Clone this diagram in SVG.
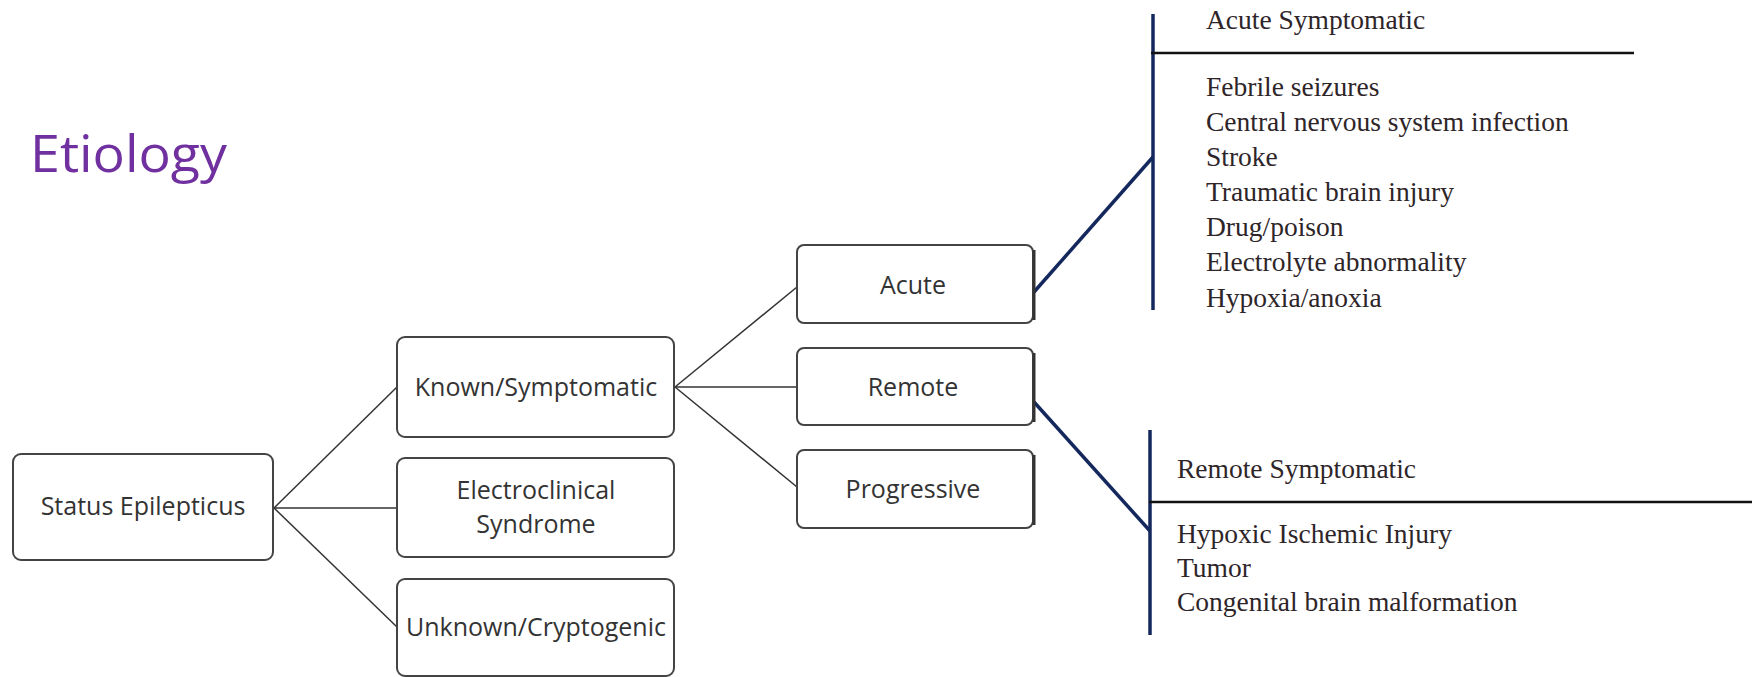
<svg xmlns="http://www.w3.org/2000/svg" width="1752" height="677" viewBox="0 0 1752 677">
<style>
.box{fill:#fff;stroke:#444;stroke-width:2}
.bt{font-family:"Open Sans","Noto Sans",sans-serif;font-size:25px;fill:#333;text-anchor:middle}
.conn{stroke:#333;stroke-width:1.5;fill:none}
.navy{stroke:#14285e;stroke-width:3.5;fill:none}
.rule{stroke:#111;stroke-width:2.5}
.st{font-family:"Liberation Serif",serif;font-size:27.5px;fill:#2e2529}
</style>
<rect width="1752" height="677" fill="#fff"/>
<text x="30" y="172" font-family="'Open Sans','Noto Sans',sans-serif" font-size="52" fill="#7030a0" textLength="197" lengthAdjust="spacingAndGlyphs">Etiology</text>
<g id="connectors">
<line class="conn" x1="274" y1="508" x2="397" y2="387"/>
<line class="conn" x1="274" y1="508" x2="397" y2="508"/>
<line class="conn" x1="274" y1="508" x2="397" y2="627"/>
<line class="conn" x1="675" y1="387" x2="797" y2="287"/>
<line class="conn" x1="675" y1="387" x2="797" y2="387"/>
<line class="conn" x1="675" y1="387" x2="797" y2="487"/>
<line class="navy" x1="1034" y1="292" x2="1153" y2="157"/>
<line class="navy" x1="1034" y1="402" x2="1150" y2="531"/>
</g>
<g id="status"><rect class="box" x="13" y="454" width="260" height="106" rx="8"/><text class="bt" x="143" y="515">Status Epilepticus</text></g>
<g id="known"><rect class="box" x="397" y="337" width="277" height="100" rx="8"/><text class="bt" x="536" y="396">Known/Symptomatic</text></g>
<g id="electro"><rect class="box" x="397" y="458" width="277" height="99" rx="8"/><text class="bt" x="536" y="499">Electroclinical</text><text class="bt" x="536" y="533">Syndrome</text></g>
<g id="unknown"><rect class="box" x="397" y="579" width="277" height="97" rx="8"/><text class="bt" x="536" y="636">Unknown/Cryptogenic</text></g>
<g id="acute"><rect class="box" x="797" y="245" width="236" height="78" rx="7"/><line x1="1034" y1="250" x2="1034" y2="320" stroke="#333" stroke-width="3"/><text class="bt" x="913" y="294">Acute</text></g>
<g id="remote"><rect class="box" x="797" y="348" width="236" height="77" rx="7"/><line x1="1034" y1="353" x2="1034" y2="422" stroke="#333" stroke-width="3"/><text class="bt" x="913" y="396">Remote</text></g>
<g id="progressive"><rect class="box" x="797" y="450" width="236" height="78" rx="7"/><line x1="1034" y1="455" x2="1034" y2="525" stroke="#333" stroke-width="3"/><text class="bt" x="913" y="498">Progressive</text></g>
<g id="acute-list">
<line class="navy" x1="1153" y1="14" x2="1153" y2="310"/>
<line class="rule" x1="1151" y1="53" x2="1634" y2="53"/>
<text class="st" x="1206" y="29">Acute Symptomatic</text>
<text class="st" x="1206" y="96">Febrile seizures</text>
<text class="st" x="1206" y="131">Central nervous system infection</text>
<text class="st" x="1206" y="166">Stroke</text>
<text class="st" x="1206" y="201">Traumatic brain injury</text>
<text class="st" x="1206" y="236">Drug/poison</text>
<text class="st" x="1206" y="271">Electrolyte abnormality</text>
<text class="st" x="1206" y="307">Hypoxia/anoxia</text>
</g>
<g id="remote-list">
<line class="navy" x1="1150" y1="430" x2="1150" y2="635"/>
<line class="rule" x1="1149" y1="502" x2="1752" y2="502"/>
<text class="st" x="1177" y="478">Remote Symptomatic</text>
<text class="st" x="1177" y="543">Hypoxic Ischemic Injury</text>
<text class="st" x="1177" y="577">Tumor</text>
<text class="st" x="1177" y="611">Congenital brain malformation</text>
</g>
</svg>
